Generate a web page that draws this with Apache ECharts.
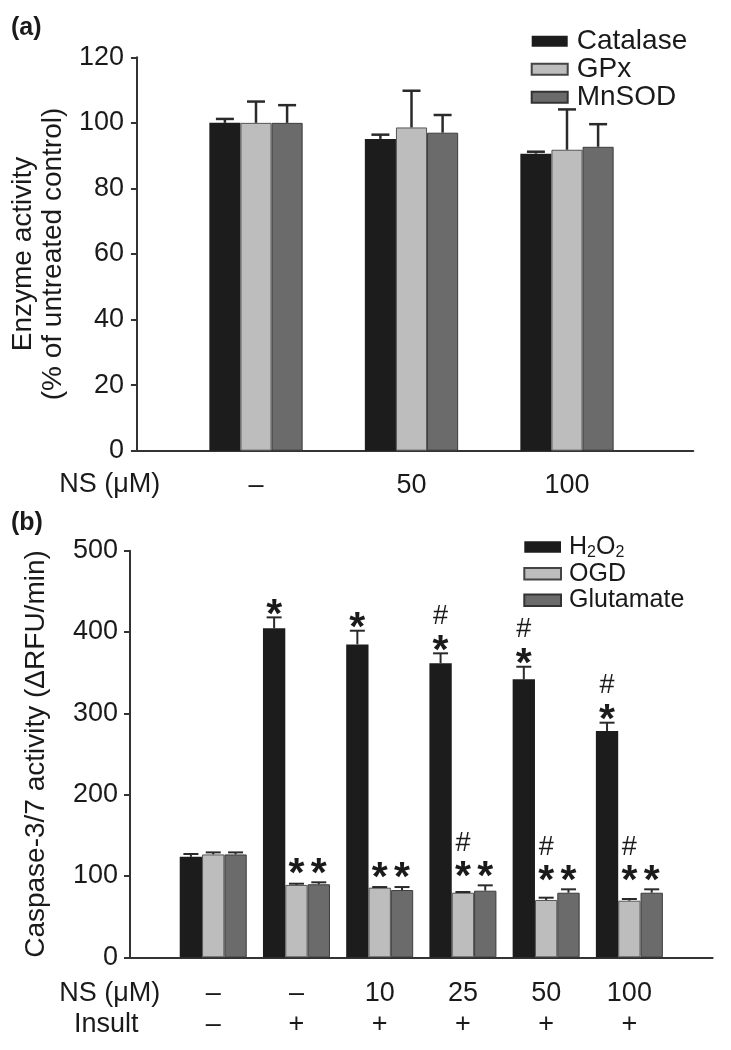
<!DOCTYPE html>
<html><head><meta charset="utf-8">
<script src="https://cdn.jsdelivr.net/npm/echarts@6/dist/echarts.min.js"></script>
<style>html,body{margin:0;padding:0;background:#fff}#c{width:731px;height:1050px}</style>
</head><body><div id="c"></div>
<script>
// ---------- Panel (a) data ----------
const catsA = ['–', '50', '100'];
const catalase = [100, 95.1, 90.6];
const catalaseErr = [1.2, 1.3, 0.6];
const gpx = [100, 98.6, 91.8];
const gpxErr = [6.5, 11.2, 12.3];
const mnsod = [100, 97.0, 92.7];
const mnsodErr = [5.4, 5.4, 6.9];
const yTicksA = [0, 20, 40, 60, 80, 100, 120];

// ---------- Panel (b) data ----------
const nsB = ['–', '–', '10', '25', '50', '100'];
const insultB = ['–', '+', '+', '+', '+', '+'];
const h2o2 = [123.5, 404.5, 384.8, 361.5, 341.8, 278.3];
const h2o2Err = [3.5, 13.5, 16.8, 12.3, 15.5, 10.2];
const ogd = [126.5, 89.0, 85.6, 79.4, 70.5, 69.6];
const ogdErr = [2.5, 1.5, 0.8, 0.9, 2.8, 2.1];
const glut = [126.5, 89.8, 82.7, 81.9, 79.4, 79.4];
const glutErr = [2.5, 2.4, 3.7, 6.6, 4.2, 4.2];
const h2o2Sig = ['', '*', '*', '#*', '#*', '#*'];
const pairSig = ['', '*', '*', '#*', '#*', '#*'];   // stars over OGD & Glutamate, '#' over OGD
const yTicksB = [0, 100, 200, 300, 400, 500];

// ---------- style ----------
const FONT = '"Liberation Sans", Arial, Helvetica, sans-serif';
const INK = '#1a1a1a';
const AX = '#333333';
const COLORS = ['#1c1c1c', '#bdbdbd', '#6b6b6b'];
const BORDERS = ['#1c1c1c', '#555555', '#3c3c3c'];
const GAP_A = 0.40, GAP_B = 0.195;

function barSeries(name, data, idx, xi, yi, gap) {
  return {
    type: 'bar', name, data, xAxisIndex: xi, yAxisIndex: yi,
    barGap: '0%', barCategoryGap: (gap * 100) + '%',
    itemStyle: { color: COLORS[idx], borderColor: BORDERS[idx], borderWidth: idx ? 1 : 0 },
    z: 2, animation: false, silent: true
  };
}
function errSeries(vals, errs, idx, xi, yi, gap, capW, lw, shift) {
  return {
    type: 'custom', xAxisIndex: xi, yAxisIndex: yi, z: 3, silent: true, animation: false,
    data: vals.map((v, i) => [i + shift, v, errs[i]]),
    renderItem(params, api) {
      const c = api.value(0), v = api.value(1), e = api.value(2);
      const p0 = api.coord([c, v]), p1 = api.coord([c, v + e]);
      const band = api.size([1, 0])[0];
      const bw = band * (1 - gap) / 3;
      const x = p0[0] + (idx - 1) * bw;
      const st = { stroke: '#2a2a2a', lineWidth: lw };
      return { type: 'group', children: [
        { type: 'line', shape: { x1: x, y1: p0[1], x2: x, y2: p1[1] }, style: st },
        { type: 'line', shape: { x1: x - capW / 2, y1: p1[1], x2: x + capW / 2, y2: p1[1] }, style: st }
      ]};
    }
  };
}

// significance marks for panel (b): [category, anchorValue, barPos, kind(0=single,1=pair), isHash]
const marks = [];
for (let i = 0; i < h2o2.length; i++) {
  const hTop = h2o2[i] + h2o2Err[i];
  if (h2o2Sig[i].includes('*')) marks.push([i + 1, hTop, 0, 0, 0]);
  if (h2o2Sig[i].includes('#')) marks.push([i + 1, hTop, 0, 0, 1]);
  const pTop = Math.max(ogd[i] + ogdErr[i], glut[i] + glutErr[i]);
  if (pairSig[i].includes('*')) { marks.push([i + 1, pTop, 1, 1, 0]); marks.push([i + 1, pTop, 2, 1, 0]); }
  if (pairSig[i].includes('#')) marks.push([i + 1, pTop, 1, 1, 1]);
}
const markSeries = {
  type: 'custom', xAxisIndex: 2, yAxisIndex: 2, z: 4, silent: true, animation: false,
  data: marks,
  renderItem(params, api) {
    const c = api.value(0), v = api.value(1), pos = api.value(2), kind = api.value(3), hash = api.value(4);
    const p = api.coord([c, v]);
    const band = api.size([1, 0])[0];
    const bw = band * (1 - GAP_B) / 3;
    const x = p[0] + (pos - 1) * bw;
    if (hash) {
      const y = p[1] + (kind ? -41.5 : -37);
      return { type: 'text', style: { text: '#', x, y, font: '27px ' + FONT, fill: INK, align: 'center', verticalAlign: 'middle' } };
    }
    const y = p[1] + (kind ? -18 : -12) + 10;
    return { type: 'text', style: { text: '*', x, y, font: 'bold 41px ' + FONT, fill: INK, align: 'center', verticalAlign: 'middle' } };
  }
};

const catsB = [''].concat(nsB.map((n, i) => n + '\n' + insultB[i])).concat(['']);
const pad = arr => [null].concat(arr).concat([null]);

const axisLabelBase = { color: INK, fontFamily: FONT, fontSize: 27 };

const option = {
  backgroundColor: '#ffffff',
  animation: false,
  textStyle: { fontFamily: FONT, color: INK },
  grid: [
    { left: 131.7, top: 57.3, width: 561.6, height: 393.4 },
    { left: 178.25, top: 57.3, width: 466.5, height: 393.4 },
    { left: 130, top: 550.7, width: 582.6, height: 406.6 }
  ],
  xAxis: [
    { gridIndex: 0, type: 'value', min: 0, max: 1, axisLine: { show: true, onZero: false, lineStyle: { color: AX, width: 2 } },
      axisTick: { show: false }, axisLabel: { show: false }, splitLine: { show: false } },
    { gridIndex: 1, type: 'category', data: catsA, axisLine: { show: false }, axisTick: { show: false },
      axisLabel: Object.assign({ margin: 19, lineHeight: 31, interval: 0 }, axisLabelBase), splitLine: { show: false } },
    { gridIndex: 2, type: 'category', data: catsB, boundaryGap: false,
      axisLine: { show: true, onZero: false, lineStyle: { color: AX, width: 2 } }, axisTick: { show: false },
      axisLabel: Object.assign({ margin: 21, lineHeight: 31, interval: 0 }, axisLabelBase), splitLine: { show: false } }
  ],
  yAxis: [
    { gridIndex: 0, type: 'value', min: yTicksA[0], max: yTicksA[yTicksA.length - 1], interval: yTicksA[1] - yTicksA[0],
      axisLine: { show: true, onZero: false, lineStyle: { color: AX, width: 2 } },
      axisTick: { show: true, length: 6, lineStyle: { color: AX, width: 2 } },
      axisLabel: Object.assign({ margin: 13 }, axisLabelBase), splitLine: { show: false },
      name: 'Enzyme activity\n(% of untreated control)', nameLocation: 'middle', nameGap: 62,
      nameTextStyle: { fontSize: 28, lineHeight: 30, color: INK, fontFamily: FONT } },
    { gridIndex: 1, type: 'value', min: yTicksA[0], max: yTicksA[yTicksA.length - 1], show: false },
    { gridIndex: 2, type: 'value', min: yTicksB[0], max: yTicksB[yTicksB.length - 1], interval: yTicksB[1] - yTicksB[0],
      axisLine: { show: true, onZero: false, lineStyle: { color: AX, width: 2 } },
      axisTick: { show: true, length: 6, lineStyle: { color: AX, width: 2 } },
      axisLabel: Object.assign({ margin: 12 }, axisLabelBase), splitLine: { show: false },
      name: 'Caspase-3/7 activity (ΔRFU/min)', nameLocation: 'middle', nameGap: 79,
      nameTextStyle: { fontSize: 28, lineHeight: 30, color: INK, fontFamily: FONT } }
  ],
  legend: [
    { orient: 'vertical', left: 530.7, top: 27.3, padding: 0, itemWidth: 36, itemHeight: 11, itemGap: 0, icon: 'rect',
      selectedMode: false,
      textStyle: { fontSize: 28, lineHeight: 26.3, color: INK, fontFamily: FONT, padding: [0, 0, 0, 4] },
      data: [
        { name: 'Catalase' },
        { name: 'GPx', itemStyle: { borderWidth: 2, borderColor: '#444' } },
        { name: 'MnSOD', itemStyle: { borderWidth: 2, borderColor: '#333' } }
      ] },
    { orient: 'vertical', left: 523.3, top: 533.5, padding: 0, itemWidth: 36.7, itemHeight: 11.3, itemGap: 0, icon: 'rect',
      selectedMode: false,
      formatter: n => n === 'H2O2' ? 'H{s|2}O{s|2}' : n,
      textStyle: { fontSize: 25, lineHeight: 26.5, color: INK, fontFamily: FONT, padding: [0, 0, 0, 3],
        rich: { s: { fontSize: 16, fontFamily: FONT, color: INK, lineHeight: 26.5, padding: [11, 0, 0, 0] } } },
      data: [
        { name: 'H2O2' },
        { name: 'OGD', itemStyle: { borderWidth: 2, borderColor: '#444' } },
        { name: 'Glutamate', itemStyle: { borderWidth: 2, borderColor: '#333' } }
      ] }
  ],
  graphic: [
    { type: 'text', x: 11, y: 28.5, style: { text: '(a)', font: 'bold 25px ' + FONT, fill: INK, verticalAlign: 'middle' } },
    { type: 'text', x: 11, y: 523, style: { text: '(b)', font: 'bold 25px ' + FONT, fill: INK, verticalAlign: 'middle' } },
    { type: 'text', x: 109.7, y: 485, style: { text: 'NS (μM)', font: '27px ' + FONT, fill: INK, align: 'center', verticalAlign: 'middle' } },
    { type: 'text', x: 109.7, y: 994, style: { text: 'NS (μM)', font: '27px ' + FONT, fill: INK, align: 'center', verticalAlign: 'middle' } },
    { type: 'text', x: 106.3, y: 1025, style: { text: 'Insult', font: '27px ' + FONT, fill: INK, align: 'center', verticalAlign: 'middle' } }
  ],
  series: [
    barSeries('Catalase', catalase, 0, 1, 1, GAP_A),
    barSeries('GPx', gpx, 1, 1, 1, GAP_A),
    barSeries('MnSOD', mnsod, 2, 1, 1, GAP_A),
    errSeries(catalase, catalaseErr, 0, 1, 1, GAP_A, 18, 2.5, 0),
    errSeries(gpx, gpxErr, 1, 1, 1, GAP_A, 18, 2.5, 0),
    errSeries(mnsod, mnsodErr, 2, 1, 1, GAP_A, 18, 2.5, 0),
    barSeries('H2O2', pad(h2o2), 0, 2, 2, GAP_B),
    barSeries('OGD', pad(ogd), 1, 2, 2, GAP_B),
    barSeries('Glutamate', pad(glut), 2, 2, 2, GAP_B),
    errSeries(h2o2, h2o2Err, 0, 2, 2, GAP_B, 15, 2, 1),
    errSeries(ogd, ogdErr, 1, 2, 2, GAP_B, 15, 2, 1),
    errSeries(glut, glutErr, 2, 2, 2, GAP_B, 15, 2, 1),
    markSeries
  ]
};

const chart = echarts.init(document.getElementById('c'), null, { renderer: 'canvas' });
chart.setOption(option);
</script>
</body></html>
